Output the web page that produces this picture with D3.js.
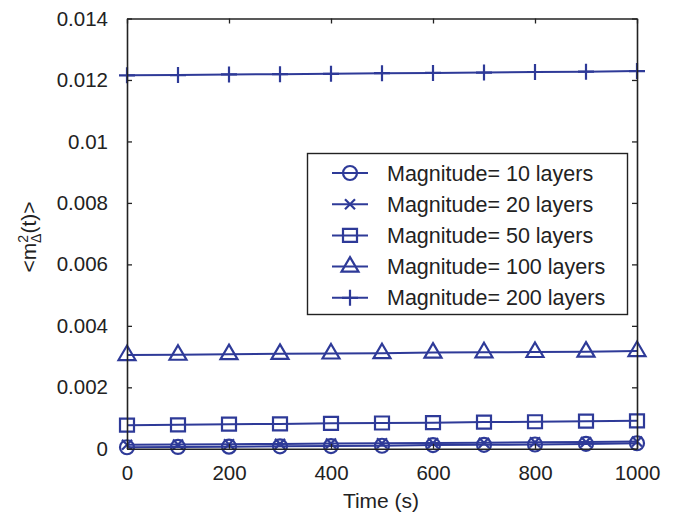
<!DOCTYPE html>
<html>
<head>
<meta charset="utf-8">
<script src="https://cdn.jsdelivr.net/npm/d3@7"></script>
<style>
  body { margin: 0; background: #fff; }
  svg { display: block; font-family: "Liberation Sans", Arial, sans-serif; }
</style>
</head>
<body>
<svg id="chart" width="675" height="517"></svg>
<script>
// Time samples (s)
const times = [0, 100, 200, 300, 400, 500, 600, 700, 800, 900, 1000];

// Mean squared magnetisation per layer count
const layers10  = [0.00005, 0.00006, 0.00007, 0.00008, 0.00009, 0.00010, 0.00012, 0.00013, 0.00014, 0.00016, 0.00018];
const layers20  = [0.00013, 0.00014, 0.00015, 0.00016, 0.00017, 0.00018, 0.00019, 0.00020, 0.00021, 0.00022, 0.00024];
const layers50  = [0.00077, 0.00078, 0.00080, 0.00081, 0.00083, 0.00084, 0.00085, 0.00087, 0.00088, 0.00090, 0.00091];
const layers100 = [0.00305, 0.00306, 0.00308, 0.00309, 0.00310, 0.00311, 0.00313, 0.00314, 0.00315, 0.00316, 0.00318];
const layers200 = [0.01215, 0.01216, 0.01218, 0.01219, 0.01220, 0.01222, 0.01223, 0.01224, 0.01226, 0.01227, 0.01229];

const seriesNames = ["Magnitude= 10 layers", "Magnitude= 20 layers", "Magnitude= 50 layers",
                     "Magnitude= 100 layers", "Magnitude= 200 layers"];
const markerKinds = ["circle", "x", "square", "triangle", "plus"];
const seriesValues = [layers10, layers20, layers50, layers100, layers200];

const xTicks = [0, 200, 400, 600, 800, 1000];
const yTicks = [0, 0.002, 0.004, 0.006, 0.008, 0.01, 0.012, 0.014];
const yTickLabels = ["0", "0.002", "0.004", "0.006", "0.008", "0.01", "0.012", "0.014"];

const lineColor = "#2e3a98";
const textColor = "#222";
const svg = d3.select("#chart");

const x = d3.scaleLinear().domain([0, 1000]).range([127, 637]);
const y = d3.scaleLinear().domain([0, 0.014]).range([448.8, 18.5]);

// Marker outlines centred at (0,0)
function markerPath(kind) {
  switch (kind) {
    case "circle": return "M7,0A7,7 0 1,1 -7,0A7,7 0 1,1 7,0Z";
    case "x": return "M-5,-5L5,5M-5,5L5,-5";
    case "square": return "M-7,-6.5H7V6.5H-7Z";
    case "triangle": return "M0,-9.5L8.5,5L-8.5,5Z";
    case "plus": return "M-8,0H8M0,-8V8";
  }
}

const plot = svg.append("g");

seriesValues.forEach((vals, i) => {
  const pts = times.map((t, j) => [t, vals[j]]);
  const line = d3.line().x(d => x(d[0])).y(d => y(d[1]));
  plot.append("path")
    .attr("d", line(pts))
    .attr("fill", "none")
    .attr("stroke", lineColor)
    .attr("stroke-width", 2);
  plot.selectAll(null).data(pts).enter().append("path")
    .attr("transform", d => `translate(${x(d[0])},${y(d[1])})`)
    .attr("d", markerPath(markerKinds[i]))
    .attr("fill", "none")
    .attr("stroke", lineColor)
    .attr("stroke-width", 2.2);
});

// Axes box with inward ticks
const axisColor = "#222";
const tickLen = 5;
const axes = svg.append("g");

const bottomAxis = d3.axisBottom(x).tickValues(xTicks).tickSizeInner(-tickLen).tickSizeOuter(0)
  .tickPadding(17).tickFormat(d3.format("d"));
axes.append("g").attr("transform", `translate(0,${y.range()[0]})`).call(bottomAxis);
const topAxis = d3.axisTop(x).tickValues(xTicks).tickSizeInner(-tickLen).tickSizeOuter(0).tickFormat("");
axes.append("g").attr("transform", `translate(0,${y.range()[1]})`).call(topAxis);
const leftAxis = d3.axisLeft(y).tickValues(yTicks).tickSizeInner(-tickLen).tickSizeOuter(0).tickPadding(19)
  .tickFormat((d, i) => yTickLabels[i]);
axes.append("g").attr("transform", `translate(${x.range()[0]},0)`).call(leftAxis);
const rightAxis = d3.axisRight(y).tickValues(yTicks).tickSizeInner(-tickLen).tickSizeOuter(0).tickFormat("");
axes.append("g").attr("transform", `translate(${x.range()[1]},0)`).call(rightAxis);

axes.selectAll(".domain").attr("stroke", axisColor).attr("stroke-width", 1.6);
axes.selectAll(".tick line").attr("stroke", axisColor).attr("stroke-width", 1.3);
axes.selectAll(".tick text")
  .attr("fill", textColor)
  .style("font-size", "20.5px")
  .style("font-family", "'Liberation Sans', Arial, sans-serif");

// Axis titles
svg.append("text")
  .attr("x", 381).attr("y", 508)
  .attr("text-anchor", "middle")
  .attr("fill", textColor)
  .style("font-size", "21px")
  .text("Time (s)");

const yTitle = svg.append("text")
  .attr("transform", "translate(36,237) rotate(-90)")
  .attr("text-anchor", "middle")
  .attr("fill", textColor)
  .style("font-size", "21px");
yTitle.append("tspan").text("<m");
yTitle.append("tspan").attr("dy", -8).style("font-size", "14px").text("2");
yTitle.append("tspan").attr("dx", -8).attr("dy", 13).style("font-size", "14px").text("Δ");
yTitle.append("tspan").attr("dy", -5).text("(t)>");

// Legend
const legend = svg.append("g");
legend.append("rect")
  .attr("x", 307.5).attr("y", 153.5).attr("width", 320).attr("height", 161)
  .attr("fill", "#fff").attr("stroke", axisColor).attr("stroke-width", 1.4);

seriesNames.forEach((name, i) => {
  const cy = 173 + i * 31.2;
  legend.append("line")
    .attr("x1", 332).attr("x2", 368).attr("y1", cy).attr("y2", cy)
    .attr("stroke", lineColor).attr("stroke-width", 2);
  legend.append("path")
    .attr("transform", `translate(350,${cy})`)
    .attr("d", markerPath(markerKinds[i]))
    .attr("fill", "none").attr("stroke", lineColor).attr("stroke-width", 2.2);
  legend.append("text")
    .attr("x", 387).attr("y", cy + 7.5)
    .attr("fill", textColor)
    .style("font-size", "21.5px")
    .text(name);
});
</script>
</body>
</html>
